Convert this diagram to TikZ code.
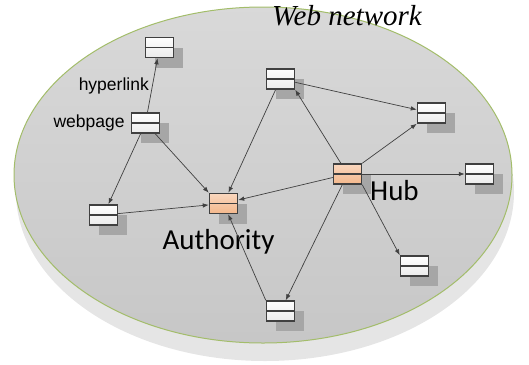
\documentclass[tikz,border=0pt]{standalone}
\usepackage{fontspec}
\setmainfont{Liberation Sans}
\newfontfamily\calfont{Carlito}
\newfontfamily\timesfont{Liberation Serif}
\usetikzlibrary{arrows.meta, shadows, positioning}

\definecolor{pagegray}{HTML}{404040}
\definecolor{rimgreen}{HTML}{A3BD6A}
\definecolor{peachtop}{HTML}{FAD7BE}
\definecolor{peachbot}{HTML}{F4B88C}

\tikzset{
  page/.style={rectangle, draw=pagegray, line width=1.5pt, minimum width=28pt, minimum height=20pt, inner sep=0pt,
    top color=white, bottom color=black!8,
    drop shadow={shadow xshift=9pt, shadow yshift=-10pt, fill=black!35, opacity=1},
    path picture={\draw[pagegray, line width=1.5pt] (path picture bounding box.west) -- (path picture bounding box.east);}},
  hot/.style={page, top color=peachtop, bottom color=peachbot},
  link/.style={draw=pagegray, line width=0.7pt, -{Latex[length=6pt,width=4.5pt]}},
  small/.style={font=\fontsize{17.5}{19}\selectfont, inner sep=0pt},
  big/.style={font=\calfont\fontsize{29}{32}\selectfont, inner sep=0pt}
}

\begin{document}
\begin{tikzpicture}[x=1pt, y=-1pt]

\pgfdeclarelayer{bg}    % layer for the disc
\pgfsetlayers{bg,main}

\useasboundingbox (0,0) rectangle (529,364);

% web pages
\node (top)[page] at (159.5,47.5) {};
\node (web)[page] at (145.5,123) {};
\node (low)[page] at (103.5,215) {};
\node (auth)[hot] at (223.5,203.5) {};
\node (mid)[page] at (280.5,79) {};
\node (east)[page] at (431.5,113) {};
\node (hub)[hot] at (347.5,174) {};
\node (far)[page] at (479.5,174) {};
\node (south)[page] at (414.5,266) {};
\node (bottom)[page] at (280.5,311) {};

% labels
\node (hyp)[small, anchor=east] at (149,86) {hyperlink};
\node (wp)[small, left=6pt of web] {webpage};
\node (authlab)[big, anchor=base] at (218.5,249) {Authority};
\node (hublab)[big, anchor=base west] at (370,200) {Hub};
\node (title)[font=\timesfont\itshape\fontsize{29}{32}\selectfont, inner sep=0pt, anchor=base west] at (272,25) {Web network};

% hyperlinks
\draw[link] (web) -- (top);
\draw[link] (web) -- (low);
\draw[link] (web) -- (auth.north west);
\draw[link] (low) -- (auth);
\draw[link] (mid) -- (auth);
\draw[link] (hub) -- (auth);
\draw[link] (bottom.north west) -- (auth);
\draw[link] (hub) -- (mid.south east);
\draw[link] (mid) -- (east);
\draw[link] (hub.north east) -- (east.south west);
\draw[link] (hub) -- (far);
\draw[link] (hub.south east) -- (south.north west);
\draw[link] (hub) -- (bottom);

\begin{pgfonlayer}{bg}
\fill[black!10] (265,192) ellipse [x radius=249, y radius=169];
\path[draw=rimgreen, line width=1pt, top color=black!15, bottom color=black!22] (263,175) ellipse [x radius=249, y radius=168];
\end{pgfonlayer}
\end{tikzpicture}
\end{document}
